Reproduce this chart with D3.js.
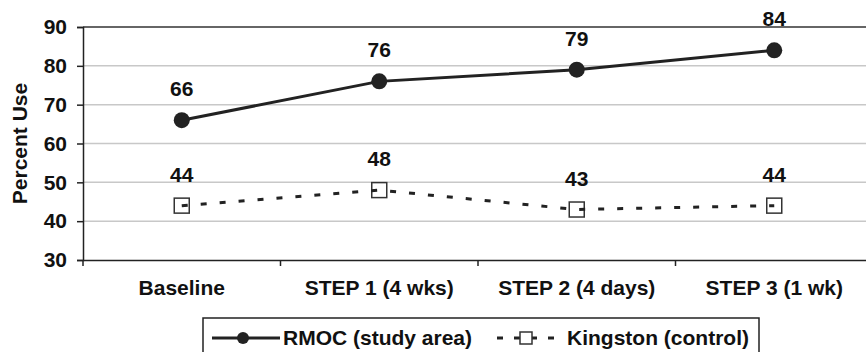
<!DOCTYPE html>
<head>
<meta charset="utf-8">
<script src="https://d3js.org/d3.v7.min.js"></script>
<style>
  body { margin: 0; background: #fff; }
  text { font-family: 'Liberation Sans', Arial, sans-serif; font-weight: bold; fill: #111; }
</style>
</head>
<body>
<script>
// DATA
var categories = ['Baseline', 'STEP 1 (4 wks)', 'STEP 2 (4 days)', 'STEP 3 (1 wk)'];
var rmoc = [66, 76, 79, 84];
var kingston = [44, 48, 43, 44];
var yTicks = [30, 40, 50, 60, 70, 80, 90];
var seriesNames = ['RMOC (study area)', 'Kingston (control)'];

var W = 866, H = 352;
var mLeft = 83, mRight = 873, mTop = 27, mBottom = 260;

var svg = d3.select('body').append('svg')
    .attr('width', W).attr('height', H);

var x = d3.scaleBand().domain(categories).range([mLeft, mRight]);
var y = d3.scaleLinear().domain([30, 90]).range([mBottom, mTop]);
var cx = d => x(d) + x.bandwidth() / 2;

// GRID
svg.append('g').selectAll('line')
    .data(yTicks.filter(t => t > 30 && t < 90)).enter()
    .append('line')
    .attr('x1', mLeft).attr('x2', W)
    .attr('y1', d => y(d)).attr('y2', d => y(d))
    .attr('stroke', '#c8c8c8').attr('stroke-width', 1.5);

// top border
svg.append('line')
    .attr('x1', mLeft).attr('x2', W)
    .attr('y1', y(90)).attr('y2', y(90))
    .attr('stroke', '#333').attr('stroke-width', 1.5);

// Y AXIS
var yAxis = svg.append('g')
    .attr('transform', 'translate(' + mLeft + ',0)')
    .call(d3.axisLeft(y).tickValues(yTicks).tickSize(6).tickPadding(10));
yAxis.select('.domain').attr('stroke', '#222').attr('stroke-width', 1.5);
yAxis.selectAll('.tick line').attr('stroke', '#222').attr('stroke-width', 1.5);
yAxis.selectAll('text').style('font-size', '21px').attr('fill', '#111');

// X AXIS
var xAxis = svg.append('g')
    .attr('transform', 'translate(0,' + mBottom + ')')
    .call(d3.axisBottom(x).tickSize(0).tickPadding(20));
xAxis.select('.domain').attr('stroke', '#222').attr('stroke-width', 1.5);
xAxis.selectAll('text').style('font-size', '21px').attr('fill', '#111');
svg.append('g').selectAll('line')
    .data(categories).enter()
    .append('line')
    .attr('x1', d => x(d)).attr('x2', d => x(d))
    .attr('y1', mBottom).attr('y2', mBottom + 6)
    .attr('stroke', '#222').attr('stroke-width', 1.5);

// Y TITLE
svg.append('text')
    .attr('transform', 'translate(27,' + (mTop + mBottom) / 2 + ') rotate(-90)')
    .attr('text-anchor', 'middle')
    .style('font-size', '21px')
    .text('Percent Use');

// RMOC
var line = d3.line().x((d, i) => cx(categories[i])).y(d => y(d));
svg.append('path').datum(rmoc)
    .attr('d', line).attr('fill', 'none')
    .attr('stroke', '#222').attr('stroke-width', 3);
svg.append('g').selectAll('circle')
    .data(rmoc).enter()
    .append('circle')
    .attr('cx', (d, i) => cx(categories[i])).attr('cy', d => y(d))
    .attr('r', 8).attr('fill', '#222');

// KINGSTON
svg.append('g').selectAll('rect')
    .data(kingston).enter()
    .append('rect')
    .attr('x', (d, i) => cx(categories[i]) - 7.5).attr('y', d => y(d) - 7.5)
    .attr('width', 15).attr('height', 15)
    .attr('fill', '#fff').attr('stroke', '#333').attr('stroke-width', 1.5);
svg.append('path').datum(kingston)
    .attr('d', line).attr('fill', 'none')
    .attr('stroke', '#222').attr('stroke-width', 3)
    .attr('stroke-dasharray', '6,13');

// DATA LABELS
[rmoc, kingston].forEach(function(s) {
  svg.append('g').selectAll('text')
    .data(s).enter()
    .append('text')
    .attr('x', (d, i) => cx(categories[i])).attr('y', d => y(d) - 24)
    .attr('text-anchor', 'middle')
    .style('font-size', '21px')
    .text(d => d);
});

// LEGEND
var lg = svg.append('g');
lg.append('rect')
    .attr('x', 203).attr('y', 318).attr('width', 556).attr('height', 40)
    .attr('fill', '#fff').attr('stroke', '#222').attr('stroke-width', 1.5);
var ly = 338;
lg.append('line').attr('x1', 212).attr('x2', 280).attr('y1', ly).attr('y2', ly)
    .attr('stroke', '#222').attr('stroke-width', 3);
lg.append('circle').attr('cx', 243).attr('cy', ly).attr('r', 6).attr('fill', '#222');
lg.append('text').attr('x', 283).attr('y', ly + 7).style('font-size', '21px').text(seriesNames[0]);
lg.append('line').attr('x1', 497).attr('x2', 560).attr('y1', ly).attr('y2', ly)
    .attr('stroke', '#222').attr('stroke-width', 3).attr('stroke-dasharray', '6,11');
lg.append('rect').attr('x', 520).attr('y', ly - 6).attr('width', 12).attr('height', 12)
    .attr('fill', '#fff').attr('stroke', '#333').attr('stroke-width', 1.5);
lg.append('text').attr('x', 567).attr('y', ly + 7).style('font-size', '21px').text(seriesNames[1]);
</script>
</body>
